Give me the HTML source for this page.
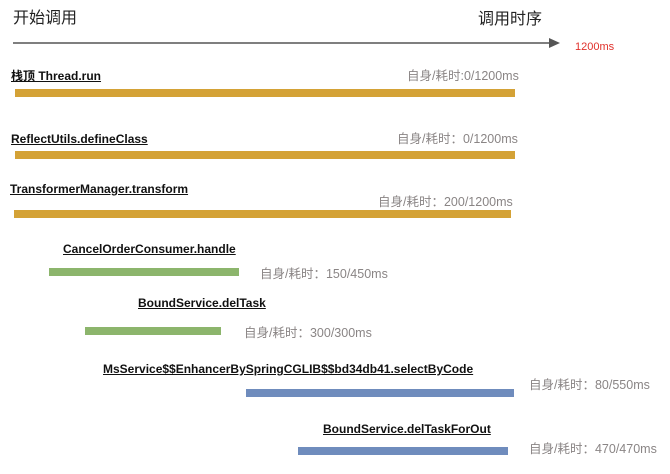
<!DOCTYPE html>
<html><head><meta charset="utf-8"><style>
body{margin:0;width:670px;height:474px;background:#fff;position:relative;overflow:hidden;font-family:"Liberation Sans","Noto Sans CJK SC",sans-serif}
.t{position:absolute;white-space:nowrap}
.n{font-size:12px;font-weight:bold;text-decoration:underline;color:#111;line-height:14px}
.r{font-size:12.5px;color:#8a8585;line-height:14px}
.b{position:absolute}
.g{background:#d4a236}.gr{background:#8cb56c}.bl{background:#6f8cbd}
</style></head><body>
<div class="t" style="left:13px;top:4px;font-size:16px;color:#222">开始调用</div>
<div class="t" style="left:478px;top:5px;font-size:16px;color:#222">调用时序</div>
<svg class="b" style="left:0;top:0" width="670" height="60"><line x1="13" y1="43" x2="552" y2="43" stroke="#555" stroke-width="1.5"/><polygon points="549,38 560,43 549,48" fill="#555"/></svg>
<div class="t" style="left:575px;top:41px;font-size:11px;color:#e0302a">1200ms</div>

<div class="t n" style="left:11px;top:69px">栈顶 Thread.run</div>
<div class="t r" style="left:407px;top:69px">自身/耗时:0/1200ms</div>
<div class="b g" style="left:15px;top:89px;width:500px;height:8px"></div>

<div class="t n" style="left:11px;top:132px">ReflectUtils.defineClass</div>
<div class="t r" style="left:397px;top:132px">自身/耗时：0/1200ms</div>
<div class="b g" style="left:15px;top:151px;width:500px;height:8px"></div>

<div class="t n" style="left:10px;top:182px">TransformerManager.transform</div>
<div class="t r" style="left:378px;top:195px">自身/耗时：200/1200ms</div>
<div class="b g" style="left:14px;top:210px;width:497px;height:8px"></div>

<div class="t n" style="left:63px;top:242px">CancelOrderConsumer.handle</div>
<div class="t r" style="left:260px;top:267px">自身/耗时：150/450ms</div>
<div class="b gr" style="left:49px;top:268px;width:190px;height:8px"></div>

<div class="t n" style="left:138px;top:296px">BoundService.delTask</div>
<div class="t r" style="left:244px;top:326px">自身/耗时：300/300ms</div>
<div class="b gr" style="left:85px;top:327px;width:136px;height:8px"></div>

<div class="t n" style="left:103px;top:362px">MsService$$EnhancerBySpringCGLIB$$bd34db41.selectByCode</div>
<div class="t r" style="left:529px;top:378px">自身/耗时：80/550ms</div>
<div class="b bl" style="left:246px;top:389px;width:268px;height:8px"></div>

<div class="t n" style="left:323px;top:422px">BoundService.delTaskForOut</div>
<div class="t r" style="left:529px;top:442px">自身/耗时：470/470ms</div>
<div class="b bl" style="left:298px;top:447px;width:210px;height:8px"></div>
</body></html>
